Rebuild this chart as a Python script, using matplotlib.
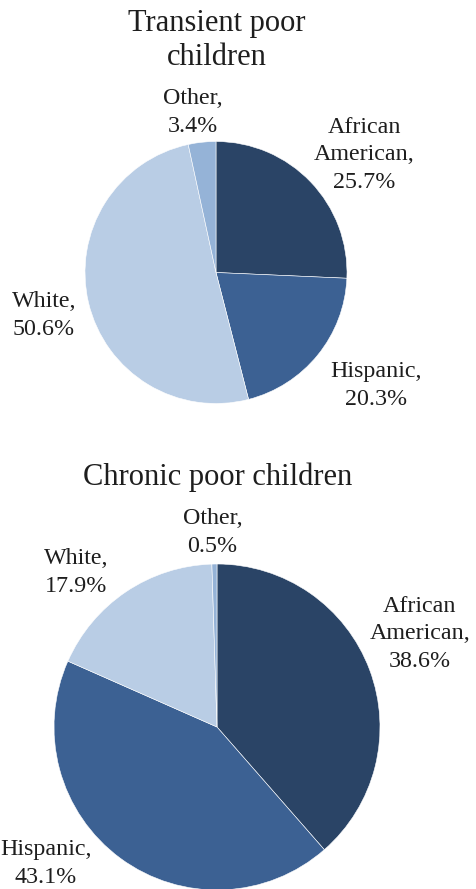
import matplotlib
matplotlib.use("Agg")
import matplotlib.pyplot as plt

plt.rcParams['font.family'] = ['Liberation Serif', 'DejaVu Serif']

categories = ["African\nAmerican", "Hispanic", "White", "Other"]
transient_values = [25.7, 20.3, 50.6, 3.4]
chronic_values = [38.6, 43.1, 17.9, 0.5]
colors = ["#2a4466", "#3c6193", "#b9cde5", "#95b3d7"]

W, H = 477, 889
fig = plt.figure(figsize=(W / 100, H / 100), dpi=100)

def pie_axes(cx, cy, r):
    return fig.add_axes([(cx - r) / W, 1 - (cy + r) / H, 2 * r / W, 2 * r / H])

label_fs = 17.3
text_color = "#1e1e1e"

# Top pie
ax1 = pie_axes(216, 272.5, 131)
ax1.pie(transient_values, colors=colors, startangle=90, counterclock=False,
        wedgeprops=dict(edgecolor="white", linewidth=0.4))
ax1.set_xlim(-1, 1); ax1.set_ylim(-1, 1)
pos1 = [(1.134, 0.645), (1.225, -1.011), (-1.313, -0.477), (-0.179, 1.076)]
for cat, v, (x, y) in zip(categories, transient_values, pos1):
    ax1.text(x, y, f"{cat},\n{v:.1f}%", ha="center", va="baseline", multialignment="center",
             fontsize=label_fs, color=text_color, linespacing=1.41)

# Bottom pie
ax2 = pie_axes(217, 727, 163)
ax2.pie(chronic_values, colors=colors, startangle=90, counterclock=False,
        wedgeprops=dict(edgecolor="white", linewidth=0.4))
ax2.set_xlim(-1, 1); ax2.set_ylim(-1, 1)
pos2 = [(1.245, 0.368), (-1.049, -0.957), (-0.865, 0.828), (-0.028, 1.074)]
for cat, v, (x, y) in zip(categories, chronic_values, pos2):
    ax2.text(x, y, f"{cat},\n{v:.1f}%", ha="center", va="baseline", multialignment="center",
             fontsize=label_fs, color=text_color, linespacing=1.41)

fig.text(216.5 / W, 1 - 65 / H, "Transient poor\nchildren", ha="center", va="baseline",
         multialignment="center", fontsize=22, color=text_color, linespacing=1.235)
fig.text(217.5 / W, 1 - 485 / H, "Chronic poor children", ha="center", va="baseline",
         fontsize=22, color=text_color)

fig.savefig("out.png", dpi=100)
